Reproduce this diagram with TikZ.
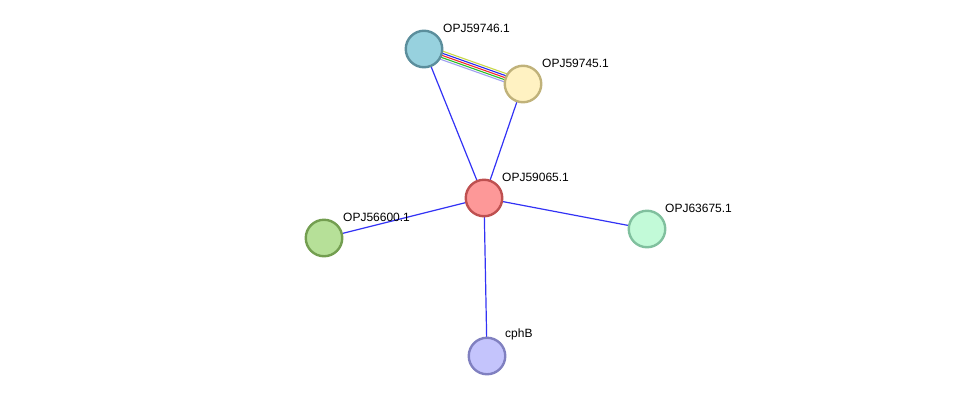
\documentclass[tikz,border=0pt]{standalone}
\usepackage{fontspec}
\setmainfont{Liberation Sans}
\usetikzlibrary{calc}
\begin{document}
\begin{tikzpicture}[x=1pt,y=-1pt,
  prot/.style={circle,minimum size=36.5pt,inner sep=0pt,line width=2.4pt},
  lbl/.style={anchor=south west,font=\fontsize{12}{13}\selectfont,inner sep=0pt},
  edge/.style={draw={rgb,255:red,50;green,50;blue,245},line width=1.2pt}]
\path[use as bounding box] (0,0) rectangle (976,402);
\definecolor{bA}{RGB}{91,142,156}\definecolor{fA}{RGB}{151,209,222}
\definecolor{bB}{RGB}{192,178,122}\definecolor{fB}{RGB}{255,242,194}
\definecolor{bC}{RGB}{190,80,80}\definecolor{fC}{RGB}{253,152,152}
\definecolor{bD}{RGB}{115,158,80}\definecolor{fD}{RGB}{182,224,152}
\definecolor{bE}{RGB}{128,192,158}\definecolor{fE}{RGB}{194,250,216}
\definecolor{bF}{RGB}{128,128,192}\definecolor{fF}{RGB}{196,196,252}
\definecolor{eY}{RGB}{200,215,70}
\definecolor{eB}{RGB}{40,40,240}
\definecolor{eR}{RGB}{240,40,40}
\definecolor{eG}{RGB}{40,190,40}
\definecolor{eL}{RGB}{160,160,240}
\coordinate (a) at (424,49);
\coordinate (b) at (523,84);
\coordinate (c) at (484,198);
\coordinate (d) at (324,238);
\coordinate (e) at (647,229);
\coordinate (f) at (487,356);
% edges
\draw[edge] (a) -- (c);
\draw[edge] (b) -- (c);
\draw[edge] (c) -- (d);
\draw[edge] (c) -- (e);
\draw[edge] (c) -- (f);
\foreach \k/\col in {2/eY,1/eB,0/eR,-1/eG,-2/eL}{
  \draw[line width=1.1pt,color=\col] ($(a)+(0.333*\k*2.1,-0.943*\k*2.1)$) -- ($(b)+(0.333*\k*2.1,-0.943*\k*2.1)$);
}
% nodes
\node[prot,draw=bA,fill=fA] (A) at (a) {};
\node[prot,draw=bB,fill=fB] (B) at (b) {};
\node[prot,draw=bC,fill=fC] (C) at (c) {};
\node[prot,draw=bD,fill=fD] (D) at (d) {};
\node[prot,draw=bE,fill=fE] (E) at (e) {};
\node[prot,draw=bF,fill=fF] (F) at (f) {};
\node[lbl] (LA) at (443,33) {OPJ59746.1};
\node[lbl] (LB) at (542,68) {OPJ59745.1};
\node[lbl] (LC) at (502,182) {OPJ59065.1};
\node[lbl] (LD) at (343,222) {OPJ56600.1};
\node[lbl] (LE) at (665,213) {OPJ63675.1};
\node[lbl] (LF) at (505,340) {cphB};
\end{tikzpicture}
\end{document}
